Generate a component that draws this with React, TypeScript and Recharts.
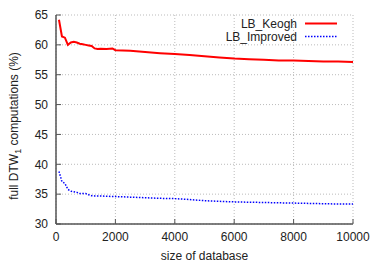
import { CartesianGrid, Legend, Line, LineChart, XAxis, YAxis } from "recharts";

const sizes = [
  100, 200, 300, 400, 500, 600, 700, 800, 900, 1000, 1100, 1200, 1300, 1400,
  1500, 1700, 1900, 2000, 2500, 3000, 3500, 4000, 4500, 5000, 5500, 6000,
  6500, 7000, 7500, 8000, 8500, 9000, 9500, 10000,
];
const keogh = [
  64.2, 61.4, 61.2, 60.0, 60.4, 60.5, 60.4, 60.2, 60.1, 60.0, 59.9, 59.8,
  59.4, 59.3, 59.35, 59.3, 59.4, 59.1, 59.0, 58.8, 58.6, 58.45, 58.3, 58.1,
  57.9, 57.7, 57.6, 57.5, 57.4, 57.4, 57.3, 57.2, 57.2, 57.15,
];
const improved = [
  38.8, 37.1, 36.8, 35.8, 35.5, 35.4, 35.3, 35.1, 35.1, 35.1, 34.9, 34.75,
  34.7, 34.7, 34.7, 34.65, 34.6, 34.6, 34.5, 34.4, 34.3, 34.25, 34.1, 33.9,
  33.8, 33.7, 33.65, 33.6, 33.55, 33.5, 33.45, 33.4, 33.35, 33.35,
];
const xTicks = [0, 2000, 4000, 6000, 8000, 10000];
const yTicks = [30, 35, 40, 45, 50, 55, 60, 65];

const data = sizes.map((size, i) => ({
  size,
  keogh: keogh[i],
  improved: improved[i],
}));

const font = "'Liberation Sans', Arial, sans-serif";
const frame = "#555";

const BottomTick = ({ x, y, payload }: any) => (
  <g>
    <line x1={x} x2={x} y1={y} y2={y - 5} stroke={frame} />
    <text x={x} y={y + 17} textAnchor="middle" fontSize={12} fontFamily={font} fill="#222">
      {payload.value}
    </text>
  </g>
);
const TopTick = ({ x, y }: any) => <line x1={x} x2={x} y1={y} y2={y + 5} stroke={frame} />;
const LeftTick = ({ x, y, payload }: any) => (
  <g>
    <line x1={x} x2={x + 5} y1={y} y2={y} stroke={frame} />
    <text x={x - 8} y={y + 4.3} textAnchor="end" fontSize={12} fontFamily={font} fill="#222">
      {payload.value}
    </text>
  </g>
);
const RightTick = ({ x, y }: any) => <line x1={x} x2={x - 5} y1={y} y2={y} stroke={frame} />;

const YLabel = () => (
  <text
    transform="translate(18,126) rotate(-90)"
    textAnchor="middle"
    fontSize={12}
    fontFamily={font}
    fill="#222"
  >
    full DTW
    <tspan dy={3} fontSize={9}>1</tspan>
    <tspan dy={-3}> computations (%)</tspan>
  </text>
);

const XLabel = ({ viewBox }: any) => (
  <text
    x={viewBox.x + viewBox.width / 2}
    y={viewBox.y + 36}
    textAnchor="middle"
    fontSize={12}
    fontFamily={font}
    fill="#222"
  >
    size of database
  </text>
);

const LegendBox = () => {
  const rows = [
    { name: "LB_Keogh", color: "#ff0000", dash: undefined, w: 2 },
    { name: "LB_Improved", color: "#0000ff", dash: "1.5 1.5", w: 1.5 },
  ];
  return (
    <div style={{ fontFamily: font, fontSize: 12, color: "#222" }}>
      {rows.map((r) => (
        <div key={r.name} style={{ display: "flex", justifyContent: "flex-end", alignItems: "center", height: 13 }}>
          <span style={{ marginRight: 6 }}>{r.name}</span>
          <svg width={40} height={13}>
            <line x1={2} x2={34} y1={6.5} y2={6.5} stroke={r.color} strokeWidth={r.w} strokeDasharray={r.dash} />
          </svg>
        </div>
      ))}
    </div>
  );
};

export default function App() {
  return (
    <div style={{ position: "absolute", left: 0, top: 0, width: 374, height: 262, background: "#fff" }}>
      <LineChart width={374} height={262} data={data} margin={{ top: 15, right: 21, bottom: 0, left: 0 }}>
        <CartesianGrid stroke="#bbb" strokeDasharray="1 2" />
        <XAxis
          dataKey="size"
          type="number"
          domain={[0, 10000]}
          ticks={xTicks}
          tickSize={0}
          tickMargin={0}
          tick={<BottomTick />}
          axisLine={{ stroke: frame, strokeWidth: 1.5 }}
          height={38}
          label={<XLabel />}
        />
        <XAxis
          xAxisId="top"
          orientation="top"
          dataKey="size"
          type="number"
          domain={[0, 10000]}
          ticks={xTicks}
          tickSize={0}
          tickMargin={0}
          tick={<TopTick />}
          height={0}
          axisLine={{ stroke: frame, strokeWidth: 1.5 }}
        />
        <YAxis
          type="number"
          domain={[30, 65]}
          ticks={yTicks}
          width={56}
          tickSize={0}
          tickMargin={0}
          tick={<LeftTick />}
          axisLine={{ stroke: frame, strokeWidth: 1.5 }}
          label={<YLabel />}
        />
        <YAxis
          yAxisId="right"
          orientation="right"
          type="number"
          domain={[30, 65]}
          ticks={yTicks}
          width={0}
          tickSize={0}
          tickMargin={0}
          tick={<RightTick />}
          axisLine={{ stroke: frame, strokeWidth: 1.5 }}
        />
        <Legend
          layout="vertical"
          align="center"
          verticalAlign="middle"
          content={<LegendBox />}
          wrapperStyle={{ top: 17, left: 200, width: 143, height: 26 }}
        />
        <Line dataKey="keogh" stroke="#ff0000" strokeWidth={2} dot={false} isAnimationActive={false} />
        <Line dataKey="improved" stroke="#0000ff" strokeWidth={1.5} strokeDasharray="1.5 1.5" dot={false} isAnimationActive={false} />
      </LineChart>
    </div>
  );
}
